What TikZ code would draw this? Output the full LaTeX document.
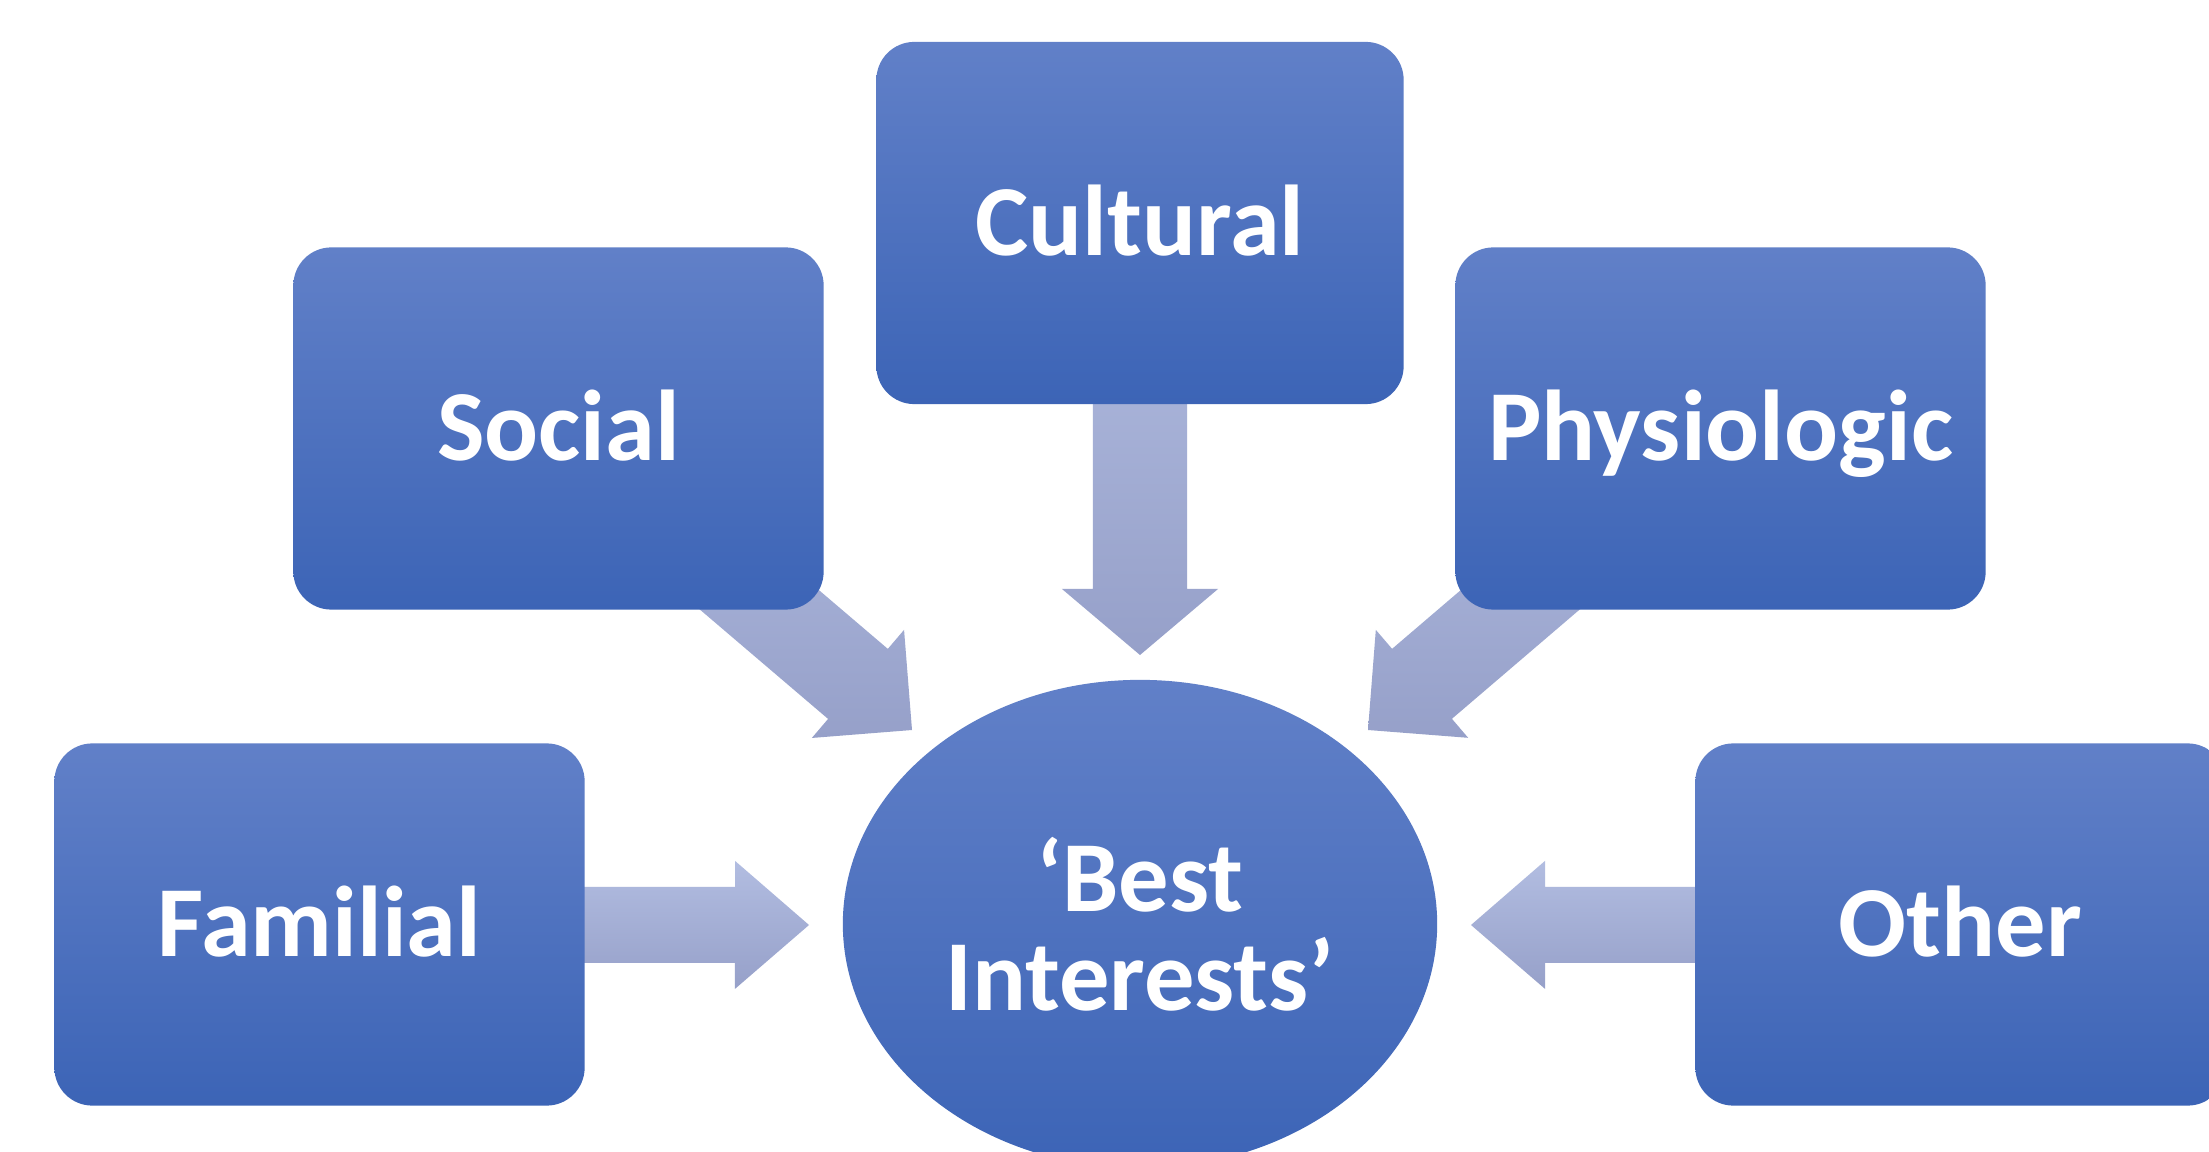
\documentclass[tikz,border=0pt]{standalone}
\usepackage{fontspec}
\setmainfont{Carlito}
\usetikzlibrary{calc,shapes.geometric,backgrounds}

\definecolor{boxtop}{RGB}{97,128,200}
\definecolor{boxbot}{RGB}{60,100,182}
\definecolor{arrtop}{RGB}{178,189,225}
\definecolor{arrbot}{RGB}{150,160,201}

\tikzset{
  factor/.style={rectangle, rounded corners=0.38cm, minimum width=5.3cm,
    minimum height=3.62cm, inner sep=0pt, top color=boxtop, bottom color=boxbot,
    draw=none, text=white, font=\bfseries\fontsize{28.6}{28}\selectfont,
    text height=0.645cm, text depth=0pt},
  hub/.style={ellipse, minimum width=5.94cm, minimum height=4.88cm, inner sep=0pt,
    top color=boxtop, bottom color=boxbot, draw=none, text=white, align=center,
    font=\bfseries\fontsize{28.6}{28.2}\selectfont},
  blockfill/.style={top color=arrtop, bottom color=arrbot, draw=none}
}

% block arrow: #1 start, #2 tip, #3 shaft half width, #4 head half width, #5 head length
\newcommand\blockarrow[5]{%
  \path[blockfill]
    ($(#1)!#3!90:(#2)$) --
    ($($(#2)!#5!(#1)$)!#3!90:(#2)$) --
    ($($(#2)!#5!(#1)$)!#4!90:(#2)$) --
    (#2) --
    ($($(#2)!#5!(#1)$)!#4!-90:(#2)$) --
    ($($(#2)!#5!(#1)$)!#3!-90:(#2)$) --
    ($(#1)!#3!-90:(#2)$) -- cycle;}

\begin{document}
\begin{tikzpicture}[x=0.01cm,y=-0.01cm]
\useasboundingbox (0,0) rectangle (2209,1152);
\clip (0,0) rectangle (2209,1152);

% factor boxes
\node[factor] (familial) at (319.5,924.5) {Familial};
\node[factor] (social)   at (558.5,428.5) {Social};
\node[factor, minimum width=5.27cm] (cultural) at (1140,223) {Cultural};
\node[factor] (physio)   at (1720.5,428.5) {Physiologic};
\node[factor] (other)    at (1960.5,924.5) {Other};

% central ellipse
\node[hub] (hub) at (1140,924) {‘Best\\Interests’};

% arrow tips near the ellipse
\coordinate (tipF) at (809,925);
\coordinate (tipO) at (1471,925);
\coordinate (tipC) at (1140,655);
\coordinate (tipS) at (912,730);
\coordinate (tipP) at (1368,730);

\begin{scope}[on background layer]
  \fill[white] (0,0) rectangle (2209,1152);
  \blockarrow{familial.center}{tipF}{0.38cm}{0.64cm}{0.74cm}
  \blockarrow{other.center}{tipO}{0.38cm}{0.64cm}{0.74cm}
  \blockarrow{cultural.center}{tipC}{0.47cm}{0.78cm}{0.66cm}
  \blockarrow{social.center}{tipS}{0.46cm}{0.71cm}{0.71cm}
  \blockarrow{physio.center}{tipP}{0.46cm}{0.71cm}{0.71cm}
\end{scope}
\end{tikzpicture}
\end{document}
